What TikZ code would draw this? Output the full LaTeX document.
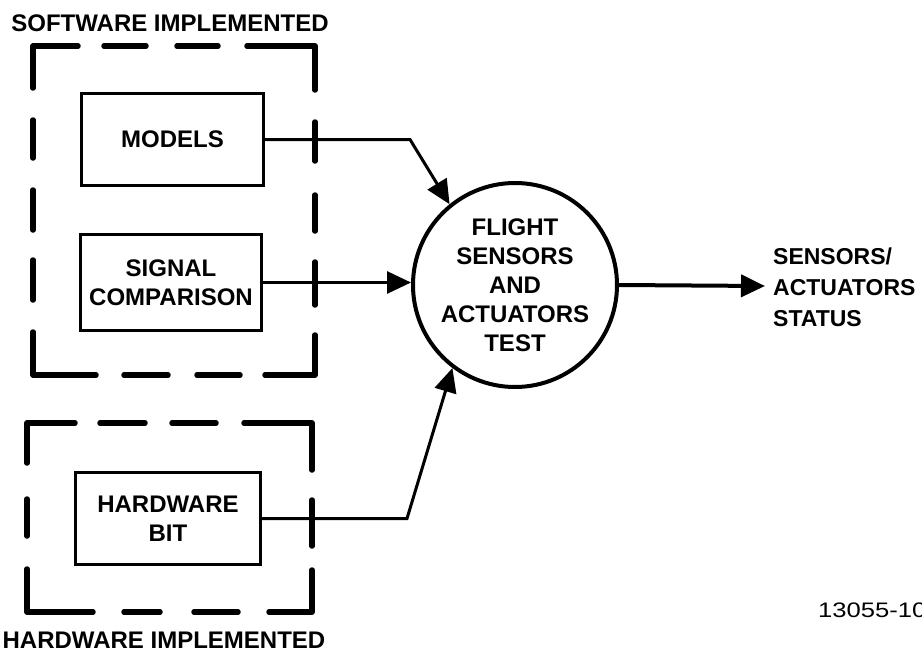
\documentclass[tikz,border=0pt]{standalone}
\usepackage{fontspec}
\setmainfont{Liberation Sans}
\newfontfamily\numfont[FakeStretch=1.22]{Liberation Sans}
\usetikzlibrary{arrows.meta}
\begin{document}
\begin{tikzpicture}[x=1pt,y=-1pt,
  txt/.style={font=\bfseries\fontsize{24}{29}\selectfont, align=center, inner sep=0pt},
  blk/.style={txt, draw, line width=3.2pt, minimum width=#1},
  dsh/.style={line width=5.5pt, line cap=round, line join=round},
  conn/.style={line width=3pt, -{Triangle[length=24pt,width=22pt]}}
]
\useasboundingbox (0,0) rectangle (922,656);

% group captions
\node[txt] (swcap) at (170,23) {SOFTWARE IMPLEMENTED};
\node[txt] (hwcap) at (164,640) {HARDWARE IMPLEMENTED};

% software-implemented group outline
\draw[dsh] (78,46) -- (33,46) -- (33,88);
\draw[dsh] (104,46) -- (146,46);
\draw[dsh] (177,46) -- (218,46);
\draw[dsh] (247,46) -- (315,46) -- (315,90);
\draw[dsh] (33,120) -- (33,158);
\draw[dsh] (33,190) -- (33,230);
\draw[dsh] (33,260) -- (33,300);
\draw[dsh] (33,332) -- (33,375) -- (96,375);
\draw[dsh] (124,375) -- (168,375);
\draw[dsh] (197,375) -- (240,375);
\draw[dsh] (265,375) -- (315,375) -- (315,335);
\draw[dsh] (315,122) -- (315,161);
\draw[dsh] (315,195) -- (315,231);
\draw[dsh] (315,262) -- (315,305);

% hardware-implemented group outline
\draw[dsh] (75,423) -- (27,423) -- (27,463);
\draw[dsh] (100,423) -- (145,423);
\draw[dsh] (172,423) -- (216,423);
\draw[dsh] (244,423) -- (312,423) -- (312,470);
\draw[dsh] (27,499) -- (27,536);
\draw[dsh] (27,569) -- (27,612) -- (93,612);
\draw[dsh] (124,612) -- (160,612);
\draw[dsh] (194,612) -- (238,612);
\draw[dsh] (269,612) -- (312,612) -- (312,570);
\draw[dsh] (312,500) -- (312,546);

% blocks
\node[blk=182pt, minimum height=92pt] (models) at (172.5,139.5) {MODELS};
\node[blk=181pt, minimum height=96pt] (sig) at (171,282.5) {SIGNAL\\COMPARISON};
\node[blk=185pt, minimum height=92pt] (hw) at (168,518.5) {HARDWARE\\BIT};

% test function
\node[txt, draw, circle, line width=4pt, minimum size=204pt] (flt) at (515,285)
  {FLIGHT\\SENSORS\\AND\\ACTUATORS\\TEST};

% connectors
\coordinate (mbend) at (410,139.5);
\coordinate (hbend) at (407,518.5);
\coordinate (out) at (765,286);
\draw[conn] (models.east) -- (mbend) -- (flt.129);
\draw[conn] (sig.east) -- (sig.east -| flt.west);
\draw[conn] (hw.east) -- (hbend) -- (flt.233);
\draw[conn, line width=4pt] (flt.east) -- (out);

% result
\node[txt, anchor=west, align=left, font=\bfseries\fontsize{23}{31}\selectfont]
  (status) at (773,287) {SENSORS/\\ACTUATORS\\STATUS};

% drawing number
\node[anchor=west, inner sep=0pt, font=\numfont\fontsize{21}{26}\selectfont] (num) at (818,610) {13055-10};
\end{tikzpicture}
\end{document}
